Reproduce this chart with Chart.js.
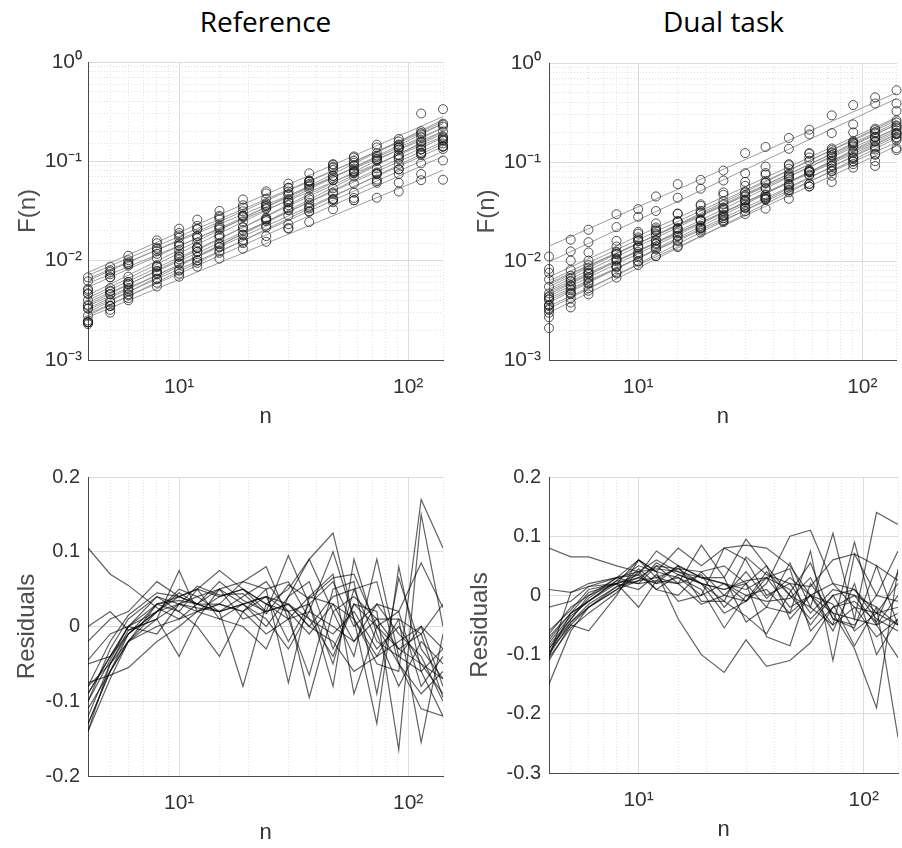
<!DOCTYPE html>
<html>
<head>
<meta charset="utf-8">
<script src="https://cdn.jsdelivr.net/npm/chart.js@4.4.0/dist/chart.umd.min.js"></script>
<style>
  body { margin: 0; background: #fff; width: 902px; height: 848px; position: relative; overflow: hidden; }
  canvas { position: absolute; }
  .ttl { position: absolute; font-family: 'Open Sans', sans-serif; font-size: 28px; color: #000; text-align: center; }
</style>
</head>
<body>
<div class="ttl" style="left:88px; width:355px; top:2px;">Reference</div>
<div class="ttl" style="left:549px; width:349px; top:2px;">Dual task</div>
<canvas id="refTop" width="450" height="440" style="left:0; top:0;"></canvas>
<canvas id="dualTop" width="452" height="440" style="left:450px; top:0;"></canvas>
<canvas id="refRes" width="450" height="418" style="left:0; top:430px;"></canvas>
<canvas id="dualRes" width="452" height="418" style="left:450px; top:430px;"></canvas>
<script>
// window sizes n (box sizes)
const nValues = [4, 5, 6, 8, 10, 12, 15, 19, 24, 30, 37, 47, 58, 73, 91, 114, 142];

// Reference condition: F(n) per subject
const refF = [
  [0.0062,0.0087,0.0112,0.016,0.021,0.0259,0.0317,0.0413,0.0499,0.0597,0.0757,0.092,0.109,0.147,0.168,0.201,0.240],
  [0.0052,0.0077,0.0101,0.015,0.019,0.0224,0.0274,0.0361,0.0476,0.0542,0.0621,0.0863,0.101,0.114,0.148,0.193,0.200],
  [0.0050,0.0073,0.0096,0.0131,0.017,0.0207,0.0262,0.0314,0.0366,0.0497,0.0635,0.0649,0.091,0.106,0.116,0.132,0.174],
  [0.0046,0.0068,0.0092,0.0135,0.018,0.021,0.0283,0.0342,0.042,0.0541,0.0627,0.0879,0.112,0.121,0.145,0.175,0.234],
  [0.0047,0.0068,0.0089,0.0125,0.0151,0.0178,0.0218,0.028,0.0357,0.0385,0.0528,0.0711,0.0757,0.101,0.114,0.132,0.141],
  [0.0068,0.008,0.0093,0.0117,0.0143,0.0176,0.0227,0.0284,0.0378,0.0467,0.0555,0.0679,0.0904,0.102,0.138,0.156,0.178],
  [0.0033,0.0050,0.0069,0.0106,0.014,0.0168,0.0212,0.0284,0.0353,0.0416,0.0593,0.0938,0.0968,0.110,0.138,0.303,0.335],
  [0.0035,0.0046,0.0058,0.0088,0.0118,0.0152,0.0205,0.0274,0.0341,0.046,0.064,0.0714,0.0791,0.138,0.132,0.187,0.224],
  [0.0040,0.0053,0.0061,0.0086,0.0128,0.0137,0.0179,0.0248,0.0333,0.0362,0.0382,0.0646,0.083,0.0753,0.137,0.140,0.162],
  [0.0036,0.0049,0.0061,0.009,0.0109,0.0134,0.018,0.0217,0.0259,0.0388,0.0416,0.0415,0.0764,0.0773,0.0828,0.120,0.141],
  [0.0033,0.0046,0.0058,0.0079,0.0111,0.0134,0.0169,0.0217,0.0265,0.0403,0.0574,0.0818,0.080,0.0755,0.158,0.148,0.166],
  [0.0028,0.0040,0.0053,0.0078,0.0094,0.0109,0.0125,0.0183,0.025,0.0323,0.0358,0.0409,0.0597,0.0741,0.061,0.159,0.141],
  [0.0024,0.0038,0.0051,0.0075,0.0103,0.0123,0.015,0.0155,0.0259,0.0324,0.0314,0.0535,0.0706,0.0851,0.109,0.0955,0.170],
  [0.0025,0.0035,0.0046,0.0066,0.0074,0.010,0.0139,0.0182,0.0225,0.0213,0.0344,0.0472,0.0406,0.0632,0.0832,0.122,0.133],
  [0.0024,0.0035,0.0049,0.0073,0.0093,0.0123,0.0146,0.0202,0.0271,0.0337,0.0441,0.0485,0.0782,0.105,0.105,0.120,0.151],
  [0.0024,0.0035,0.0045,0.0065,0.0081,0.0095,0.012,0.015,0.0177,0.0233,0.031,0.0387,0.0428,0.0608,0.0745,0.0746,0.102],
  [0.0023,0.0032,0.0042,0.0060,0.0079,0.0101,0.0136,0.0162,0.0216,0.0284,0.0335,0.0419,0.0483,0.0655,0.0942,0.116,0.162],
  [0.0024,0.0030,0.0040,0.0055,0.0069,0.0087,0.0105,0.0132,0.0155,0.021,0.0245,0.0329,0.0406,0.043,0.0497,0.0646,0.0653]
];
// fitted power law: value at n = 4 and at n = 142
const refFitStart = [0.0076,0.0071,0.0066,0.0063,0.0059,0.0054,0.0045,0.0042,0.0040,0.0038,0.0036,0.0035,0.0033,0.0032,0.0030,0.0029,0.0028,0.0027];
const refFitEnd = [0.282,0.240,0.200,0.251,0.178,0.219,0.263,0.240,0.191,0.158,0.219,0.141,0.174,0.126,0.200,0.112,0.151,0.0813];
const refResid = [
  [-0.09,-0.04,-0.01,0.02,0.04,0.05,0.04,0.05,0.03,0.01,0.02,0.00,-0.02,0.01,-0.03,-0.05,-0.07],
  [-0.13,-0.06,-0.02,0.03,0.035,0.03,0.02,0.04,0.06,0.02,-0.01,0.03,0.01,-0.04,-0.02,0.00,-0.08],
  [-0.12,-0.05,-0.005,0.01,0.03,0.04,0.05,0.03,0.00,0.04,0.06,-0.03,0.03,0.00,-0.05,-0.09,-0.06],
  [-0.14,-0.07,-0.02,0.02,0.045,0.03,0.06,0.035,0.02,0.03,0.00,0.04,0.05,-0.02,-0.04,-0.06,-0.03],
  [-0.10,-0.03,0.01,0.04,0.03,0.025,0.02,0.03,0.04,-0.02,0.03,0.06,0.00,0.03,-0.01,-0.04,-0.10],
  [0.105,0.07,0.055,0.025,0.01,0.02,0.03,0.02,0.04,0.03,0.01,-0.01,0.02,-0.03,0.00,-0.05,-0.09],
  [-0.13,-0.06,-0.01,0.03,0.04,0.03,0.02,0.03,0.01,-0.03,0.02,0.10,0.01,-0.05,-0.06,0.17,0.105],
  [-0.075,-0.065,-0.055,-0.02,0.00,0.02,0.04,0.05,0.03,0.05,0.09,0.02,-0.04,0.09,-0.04,0.00,-0.03],
  [0.00,0.02,-0.005,0.01,0.075,0.02,0.03,0.06,0.08,0.01,-0.065,0.05,0.06,-0.09,0.065,-0.03,-0.07],
  [-0.02,0.01,0.02,0.06,0.04,0.05,0.075,0.05,0.02,0.095,0.03,-0.08,0.09,-0.01,-0.08,-0.02,-0.05],
  [-0.045,-0.01,0.00,-0.01,0.03,0.02,0.01,0.00,-0.03,0.04,0.09,0.125,0.01,-0.13,0.08,-0.06,-0.12],
  [-0.09,-0.04,0.00,0.04,0.02,0.00,-0.04,0.02,0.05,0.06,0.01,-0.04,0.03,0.02,-0.165,0.15,0.00],
  [-0.14,-0.05,-0.01,0.02,0.05,0.04,0.02,-0.08,0.03,0.02,-0.095,0.02,0.04,0.01,0.01,-0.155,-0.01],
  [-0.11,-0.06,-0.02,0.01,-0.04,0.01,0.05,0.06,0.05,-0.075,0.04,0.07,-0.09,0.00,0.02,0.085,0.025],
  [-0.10,-0.045,0.00,0.03,0.02,0.05,0.01,0.03,0.04,0.02,0.03,-0.05,0.05,0.06,-0.05,-0.11,-0.12],
  [-0.08,-0.02,0.015,0.045,0.04,0.03,0.03,0.02,-0.01,0.01,0.04,0.03,-0.02,0.03,0.02,-0.08,-0.04],
  [-0.08,-0.05,-0.02,0.00,0.01,0.03,0.05,0.01,0.02,0.03,0.00,-0.02,-0.06,-0.04,0.01,-0.01,0.03],
  [-0.05,-0.04,0.00,0.02,0.03,0.054,0.042,0.044,0.017,0.056,0.037,0.065,0.07,0.00,-0.03,-0.01,-0.095]
];

// Dual task condition
const dualF = [
  [0.0111,0.0164,0.0207,0.0297,0.0334,0.0449,0.0598,0.066,0.082,0.123,0.142,0.175,0.212,0.296,0.376,0.45,0.53],
  [0.0076,0.0125,0.0155,0.022,0.028,0.032,0.0435,0.0537,0.065,0.077,0.09,0.136,0.19,0.196,0.24,0.39,0.39],
  [0.0083,0.0101,0.0122,0.016,0.0197,0.024,0.0299,0.0374,0.0466,0.0574,0.0748,0.0855,0.111,0.132,0.162,0.200,0.263],
  [0.0065,0.0081,0.0101,0.014,0.0189,0.0218,0.0302,0.0361,0.0493,0.063,0.0774,0.0929,0.103,0.137,0.158,0.195,0.234],
  [0.0055,0.0071,0.0091,0.0124,0.0161,0.0203,0.0254,0.0321,0.0374,0.0461,0.0615,0.0951,0.121,0.125,0.154,0.178,0.229],
  [0.0021,0.0034,0.0046,0.0068,0.0091,0.0112,0.0142,0.0215,0.0247,0.037,0.0423,0.0494,0.060,0.0726,0.129,0.121,0.174],
  [0.0043,0.0063,0.0075,0.0117,0.0173,0.0201,0.0251,0.0311,0.0345,0.0501,0.0646,0.0766,0.123,0.103,0.199,0.217,0.327],
  [0.0041,0.0057,0.0076,0.0106,0.0138,0.0182,0.0216,0.0263,0.0333,0.0352,0.0461,0.070,0.0729,0.123,0.110,0.210,0.251],
  [0.0044,0.0062,0.008,0.0118,0.0159,0.0189,0.020,0.0226,0.0271,0.0393,0.0444,0.0589,0.0793,0.117,0.155,0.177,0.197],
  [0.0041,0.0056,0.0074,0.0104,0.0143,0.0161,0.0211,0.0255,0.0318,0.0411,0.0416,0.0516,0.0818,0.0929,0.102,0.102,0.221],
  [0.0036,0.0053,0.0069,0.0102,0.0136,0.0162,0.0212,0.0258,0.0402,0.0491,0.054,0.0738,0.083,0.117,0.147,0.180,0.138],
  [0.0036,0.0051,0.0067,0.0099,0.0123,0.0152,0.0191,0.0256,0.029,0.0406,0.0546,0.0575,0.0793,0.0906,0.123,0.140,0.191],
  [0.0035,0.0048,0.0063,0.0088,0.0109,0.014,0.016,0.0211,0.0284,0.0344,0.0422,0.0551,0.0746,0.0815,0.101,0.144,0.178],
  [0.0033,0.0047,0.006,0.0086,0.0118,0.0134,0.018,0.0219,0.0271,0.0318,0.043,0.0525,0.0566,0.0804,0.0877,0.118,0.166],
  [0.0032,0.0046,0.0059,0.0089,0.0113,0.0148,0.0178,0.0215,0.029,0.041,0.0469,0.0667,0.0791,0.0991,0.108,0.163,0.195],
  [0.0047,0.0067,0.0085,0.0122,0.0166,0.0209,0.0249,0.0303,0.0341,0.0447,0.0619,0.0718,0.0809,0.112,0.143,0.160,0.191],
  [0.0030,0.0042,0.0053,0.0077,0.0099,0.0112,0.0138,0.0194,0.0253,0.0298,0.0338,0.0425,0.0566,0.0628,0.0951,0.0912,0.132],
  [0.0027,0.0038,0.0050,0.0075,0.0099,0.0131,0.0161,0.0203,0.0259,0.0345,0.0443,0.0601,0.060,0.0853,0.112,0.134,0.209]
];
const dualFitStart = [0.0141,0.0098,0.0069,0.0063,0.0058,0.0030,0.0055,0.0050,0.0052,0.0048,0.0046,0.0044,0.0040,0.0042,0.0038,0.0060,0.0035,0.0033];
const dualFitEnd = [0.501,0.437,0.282,0.263,0.240,0.174,0.275,0.191,0.251,0.200,0.240,0.209,0.182,0.158,0.219,0.219,0.145,0.191];
const dualResid = [
  [-0.10,-0.03,-0.01,0.02,-0.02,0.025,0.05,-0.01,-0.01,0.065,0.035,0.02,0.015,0.06,0.07,0.05,0.025],
  [-0.105,0.005,0.015,0.03,0.035,0.01,0.035,0.02,-0.01,-0.035,-0.065,0.005,0.055,-0.04,-0.055,0.05,-0.05],
  [0.08,0.065,0.065,0.05,0.04,0.045,0.04,0.03,0.02,0.01,0.03,-0.02,0.00,-0.03,-0.04,-0.05,-0.03],
  [0.01,0.005,0.02,0.03,0.06,0.04,0.08,0.05,0.08,0.085,0.08,0.05,0.00,0.02,-0.02,-0.03,-0.05],
  [-0.02,-0.01,0.015,0.02,0.03,0.05,0.045,0.04,0.00,-0.01,0.02,0.10,0.11,0.02,0.01,-0.03,-0.02],
  [-0.15,-0.06,-0.02,0.01,0.025,0.03,0.02,0.085,0.03,0.095,0.05,0.00,-0.02,-0.05,0.09,-0.05,0.00],
  [-0.11,-0.05,-0.06,0.00,0.06,0.04,0.03,0.01,-0.055,0.00,0.01,-0.03,0.075,-0.11,0.07,0.00,0.075],
  [-0.09,-0.04,0.00,0.02,0.035,0.075,0.05,0.03,0.03,-0.045,-0.02,0.055,-0.02,0.105,-0.04,0.14,0.12],
  [-0.08,-0.035,-0.01,0.025,0.05,0.04,-0.04,-0.10,-0.13,-0.075,-0.12,-0.11,-0.08,-0.02,0.00,-0.05,-0.105],
  [-0.07,-0.03,0.005,0.02,0.06,0.03,0.045,0.02,0.01,0.02,-0.07,-0.085,0.02,-0.03,-0.09,-0.19,0.045],
  [-0.10,-0.045,-0.015,0.015,0.03,0.02,0.03,0.00,0.08,0.06,0.00,0.02,-0.03,0.01,0.00,-0.02,-0.24],
  [-0.085,-0.04,-0.005,0.03,0.02,0.025,0.02,0.035,-0.02,0.02,0.05,-0.04,0.00,-0.05,-0.02,-0.07,-0.04],
  [-0.06,-0.025,0.01,0.02,0.01,0.035,-0.01,0.00,0.02,0.00,-0.01,-0.005,0.03,-0.04,-0.05,0.00,-0.01],
  [-0.095,-0.05,-0.02,0.01,0.045,0.02,0.05,0.03,0.02,-0.01,0.03,0.01,-0.05,0.00,-0.06,-0.03,0.02],
  [-0.075,-0.03,-0.01,0.025,0.02,0.05,0.02,-0.015,0.00,0.04,-0.005,0.03,0.00,-0.015,-0.085,-0.02,-0.05],
  [-0.105,-0.055,-0.03,0.005,0.04,0.06,0.04,0.02,-0.03,-0.01,0.04,0.00,-0.04,0.00,0.01,-0.04,-0.06],
  [-0.065,-0.02,0.00,0.03,0.04,0.01,0.00,0.04,0.05,0.02,-0.02,-0.03,0.00,-0.06,0.02,-0.10,-0.04],
  [-0.09,-0.045,-0.02,0.015,0.025,0.055,0.035,0.02,0.01,0.025,0.03,0.045,-0.06,-0.02,-0.01,-0.045,0.04]
];

const GRID_MAJOR = '#dcdcdc';
const GRID_MINOR = '#e2e2e2';
const AXIS_COLOR = '#4a4a4a';
const TEXT_COLOR = '#333333';
const LABEL_COLOR = '#4d4d4d';
const FONT = 'Liberation Sans, Arial, sans-serif';
const SUP = { '0': '\u2070', '1': '\u00b9', '2': '\u00b2', '3': '\u00b3', '-': '\u207b' };

function isDecade(v) {
  const l = Math.log10(v);
  return Math.abs(l - Math.round(l)) < 1e-6;
}
function powLabel(v) {
  const e = String(Math.round(Math.log10(v)));
  return '10' + e.split('').map(c => SUP[c]).join('');
}

function logAxis(min, max, fitSize, horizontal, tickPad, titleText, titleSize, titlePad) {
  return {
    type: 'logarithmic',
    min: min,
    max: max,
    afterFit: s => {
      if (horizontal) {
        s.height = fitSize;
        // the tick padding must not eat into the plot width
        s.paddingLeft = 0;
        s.paddingRight = 0;
      } else {
        s.width = fitSize;
      }
    },
    grid: {
      drawTicks: false,
      color: c => (c.tick && !isDecade(c.tick.value)) ? GRID_MINOR : GRID_MAJOR
    },
    border: {
      color: AXIS_COLOR,
      width: 1,
      dash: c => (c.tick && !isDecade(c.tick.value)) ? [1, 2] : []
    },
    ticks: {
      autoSkip: false,
      maxRotation: 0,
      padding: tickPad,
      color: TEXT_COLOR,
      font: { family: FONT, size: 21 },
      callback: v => isDecade(v) ? powLabel(v) : ''
    },
    title: {
      display: true,
      text: titleText,
      color: horizontal ? TEXT_COLOR : LABEL_COLOR,
      font: { family: FONT, size: titleSize },
      padding: titlePad
    }
  };
}

function linAxis(min, max, fitSize, tickPad, titleText, titlePad) {
  return {
    type: 'linear',
    min: min,
    max: max,
    afterFit: s => { s.width = fitSize; },
    grid: { drawTicks: false, color: GRID_MAJOR },
    border: { color: AXIS_COLOR, width: 1 },
    ticks: {
      stepSize: 0.1,
      padding: tickPad,
      color: TEXT_COLOR,
      font: { family: FONT, size: 20 },
      callback: v => Math.abs(v) < 1e-9 ? '0' : v.toFixed(1)
    },
    title: {
      display: true,
      text: titleText,
      color: LABEL_COLOR,
      font: { family: FONT, size: 24 },
      padding: titlePad
    }
  };
}

function topDatasets(F, fitStart, fitEnd) {
  const sets = [];
  F.forEach((row, i) => {
    sets.push({
      data: nValues.map((n, k) => ({ x: n, y: row[k] })),
      showLine: false,
      pointStyle: 'circle',
      pointRadius: 4.5,
      pointBorderWidth: 1,
      pointBorderColor: 'rgba(30,30,30,0.75)',
      pointBackgroundColor: 'rgba(0,0,0,0)',
      clip: false,
      order: 0
    });
    sets.push({
      data: [{ x: nValues[0], y: fitStart[i] }, { x: nValues[nValues.length - 1], y: fitEnd[i] }],
      showLine: true,
      borderColor: 'rgba(140,140,140,0.85)',
      borderWidth: 1,
      pointRadius: 0,
      order: 1
    });
  });
  return sets;
}

function residDatasets(R) {
  return R.map(row => ({
    data: nValues.map((n, k) => ({ x: n, y: row[k] })),
    showLine: true,
    borderColor: 'rgba(0,0,0,0.62)',
    borderWidth: 1.2,
    pointRadius: 0,
    tension: 0
  }));
}

function makeChart(id, datasets, xScale, yScale, padding) {
  new Chart(document.getElementById(id), {
    type: 'scatter',
    data: { datasets: datasets },
    options: {
      responsive: false,
      animation: false,
      events: [],
      layout: { padding: padding },
      plugins: { legend: { display: false }, tooltip: { enabled: false } },
      scales: { x: xScale, y: yScale }
    }
  });
}

makeChart('refTop', topDatasets(refF, refFitStart, refFitEnd),
  logAxis(4, 142, 80, true, 15, 'n', 22, { top: 0, bottom: 10 }),
  logAxis(0.001, 1, 88, false, 6, 'F(n)', 24, { top: 14, bottom: 0 }),
  { top: 62, right: 7, bottom: 0, left: 0 });

makeChart('dualTop', topDatasets(dualF, dualFitStart, dualFitEnd),
  logAxis(4, 142, 80, true, 15, 'n', 22, { top: 0, bottom: 10 }),
  logAxis(0.001, 1, 99, false, 8, 'F(n)', 24, { top: 23, bottom: 0 }),
  { top: 63, right: 4, bottom: 0, left: 0 });

makeChart('refRes', residDatasets(refResid),
  logAxis(4, 142, 72, true, 15, 'n', 22, { top: 0, bottom: 2 }),
  linAxis(-0.2, 0.2, 88, 8, 'Residuals', { top: 13, bottom: 0 }),
  { top: 47, right: 7, bottom: 0, left: 0 });

makeChart('dualRes', residDatasets(dualResid),
  logAxis(4, 142, 75, true, 15, 'n', 22, { top: 0, bottom: 5 }),
  linAxis(-0.3, 0.2, 99, 8, 'Residuals', { top: 16, bottom: 0 }),
  { top: 47, right: 4, bottom: 0, left: 0 });
</script>
</body>
</html>
